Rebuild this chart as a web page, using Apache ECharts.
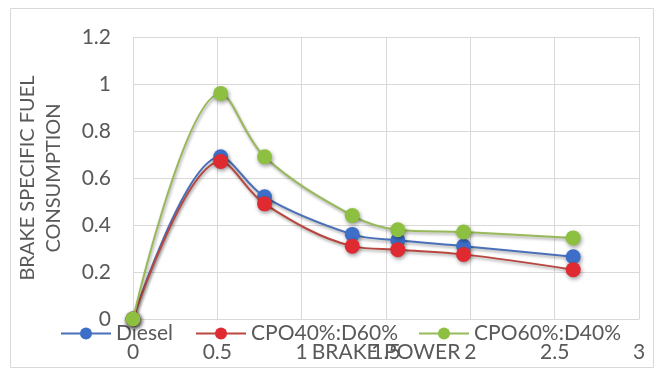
<!DOCTYPE html>
<html>
<head>
<meta charset="utf-8">
<script src="https://cdn.jsdelivr.net/npm/echarts@6/dist/echarts.min.js"></script>
<style>
html,body{margin:0;padding:0;background:#fff;}
#c{width:656px;height:369px;}
</style>
</head>
<body>
<div id="c"></div>
<script>
var xValues = [0, 0.52, 0.78, 1.30, 1.57, 1.96, 2.61];
var diesel = [0, 0.69, 0.52, 0.36, 0.335, 0.31, 0.265];
var cpo40 = [0, 0.67, 0.49, 0.31, 0.295, 0.275, 0.21];
var cpo60 = [0, 0.96, 0.69, 0.44, 0.38, 0.37, 0.345];
var seriesNames = ['Diesel', 'CPO40%:D60%', 'CPO60%:D40%'];
var yTicks = [0, 0.2, 0.4, 0.6, 0.8, 1, 1.2];
var xTicks = [0, 0.5, 1, 1.5, 2, 2.5, 3];

function pairs(ys){ return xValues.map(function(x,i){ return [x, ys[i]]; }); }

var FONT = 'Lato';
var TXT = '#595959';
var lineColors = ['#4a70b8', '#b8473f', '#98b95a'];
var markColors = ['#3d6fc9', '#e02a31', '#8dc040'];
var seriesData = [diesel, cpo40, cpo60];

var chart = echarts.init(document.getElementById('c'), null, {renderer:'canvas'});

function mkSeries(i){
  return {
    name: seriesNames[i],
    type: 'line',
    data: pairs(seriesData[i]),
    smooth: 0.35,
    symbol: 'circle',
    symbolSize: 15,
    lineStyle: {color: lineColors[i], width: 2, shadowColor:'rgba(0,0,0,0.35)', shadowBlur:3, shadowOffsetX:1, shadowOffsetY:2},
    itemStyle: {color: markColors[i], shadowColor:'rgba(0,0,0,0.4)', shadowBlur:4, shadowOffsetX:1, shadowOffsetY:2},
    z: 3 + i
  };
}

var legendLefts = [60, 195, 418];
var option = {
  animation: false,
  backgroundColor: '#fff',
  textStyle: {fontFamily: FONT},
  graphic: [{
    type: 'rect', left: 8, top: 6, z: -10,
    shape: {width: 643, height: 359},
    style: {fill: 'none', stroke: '#d9d9d9', lineWidth: 1}
  }],
  grid: {left: 133, right: 17, top: 37, bottom: 50, containLabel: false, outerBoundsMode: 'none'},
  legend: seriesNames.map(function(n, i){
    return {
      data: [n], left: legendLefts[i], top: 323, padding: 0,
      itemWidth: 50, itemHeight: 15, itemGap: 0,
      textStyle: {color: TXT, fontSize: 21, fontFamily: FONT},
      z: 2
    };
  }),
  xAxis: {
    type: 'value', min: 0, max: 3, interval: 0.5,
    name: 'BRAKE POWER', nameLocation: 'middle', nameGap: 23, nameMoveOverlap: false,
    nameTextStyle: {color: TXT, fontSize: 21, fontFamily: FONT},
    axisLine: {show: true, lineStyle: {color: '#d9d9d9'}},
    axisTick: {show: false},
    axisLabel: {color: TXT, fontSize: 21, fontFamily: FONT, margin: 23, hideOverlap: false},
    splitLine: {show: true, lineStyle: {color: '#d9d9d9', width: 1}}
  },
  yAxis: {
    type: 'value', min: 0, max: 1.2, interval: 0.2,
    name: 'BRAKE SPECIFIC FUEL\nCONSUMPTION', nameLocation: 'middle', nameGap: 66, nameRotate: 90, nameMoveOverlap: false,
    nameTextStyle: {color: TXT, fontSize: 20, lineHeight: 26, fontFamily: FONT, align: 'center'},
    axisLine: {show: false},
    axisTick: {show: false},
    axisLabel: {color: TXT, fontSize: 21, fontFamily: FONT, margin: 22},
    splitLine: {show: true, lineStyle: {color: '#d9d9d9', width: 1}}
  },
  series: [mkSeries(0), mkSeries(1), mkSeries(2)]
};
chart.setOption(option);
</script>
</body>
</html>
